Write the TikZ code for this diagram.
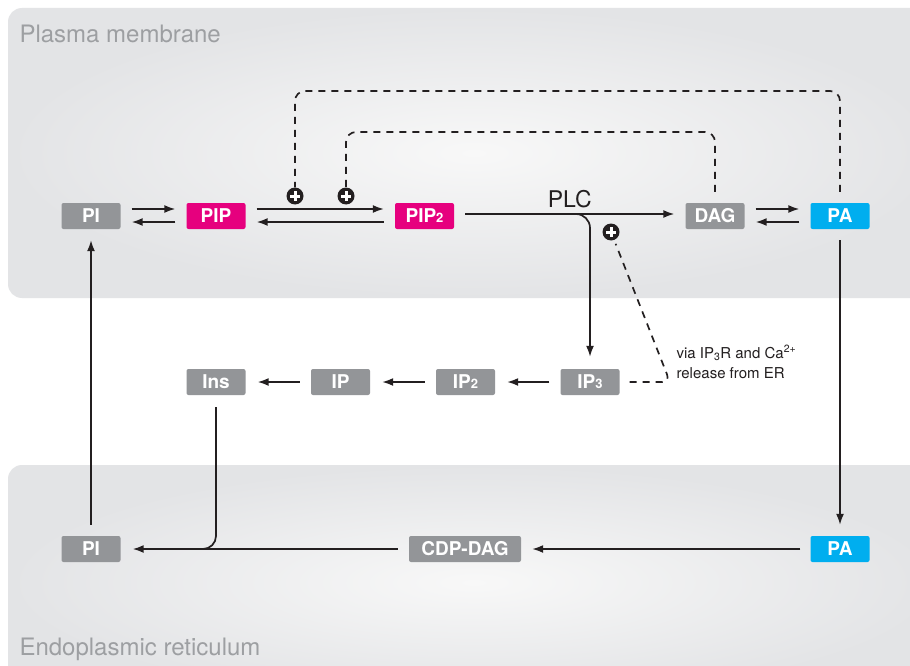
\documentclass[tikz,border=0pt]{standalone}
\usepackage{fontspec}
\setmainfont{TeX Gyre Heros}
\usetikzlibrary{arrows.meta,calc}
\definecolor{boxgray}{HTML}{939598}
\definecolor{pipmag}{HTML}{E6007E}
\definecolor{pacyan}{HTML}{00AEEF}
\definecolor{ink}{HTML}{231F20}
\definecolor{panelout}{HTML}{E3E4E6}
\definecolor{panelin}{HTML}{F8F8F8}
\definecolor{labelgray}{HTML}{9D9FA2}
\begin{document}
\begin{tikzpicture}[x=1pt,y=-1pt,
  lipid/.style={rectangle, rounded corners=2pt, minimum width=59pt, minimum height=26pt,
    inner sep=0pt, text=white, font=\fontsize{19}{19}\selectfont\bfseries},
  grayb/.style={lipid, fill=boxgray},
  magb/.style={lipid, fill=pipmag},
  cyanb/.style={lipid, fill=pacyan},
  conn/.style={draw=ink, line width=1.7pt},
  arr/.style={conn, -{Latex[length=11pt,width=8pt]}},
  dashline/.style={draw=ink, line width=1.7pt, dash pattern=on 7pt off 6pt},
  plus/.style={circle, fill=ink, minimum size=17pt, inner sep=0pt,
    path picture={
      \draw[white, line width=3pt]
        ([xshift=-4.8pt]path picture bounding box.center) -- ([xshift=4.8pt]path picture bounding box.center)
        ([yshift=-4.8pt]path picture bounding box.center) -- ([yshift=4.8pt]path picture bounding box.center);}},
  panellabel/.style={anchor=base west, text=labelgray, font=\fontsize{24}{24}\selectfont}
]
\useasboundingbox (0,0) rectangle (910,666);
\fill[white] (0,0) rectangle (910,666);

% membrane panels
\begin{scope}
\clip (0,0) rectangle (910,666);
\shade[inner color=panelin, outer color=panelout, rounded corners=14pt]
  (8,8) rectangle (940,298);
\shade[inner color=panelin, outer color=panelout, rounded corners=14pt]
  (8,465) rectangle (940,700);
\end{scope}
\node[panellabel] (pmlabel) at (16,43) {Plasma membrane};
\node[panellabel] (erlabel) at (16,655) {Endoplasmic reticulum};

% lipid species
\node[grayb] (PIt) at (91,216) {PI};
\node[magb]  (PIP) at (216,216) {PIP};
\node[magb]  (PIP2) at (424.5,216) {PIP{\fontsize{13}{13}\selectfont 2}};
\node[grayb] (DAG) at (715,216) {DAG};
\node[cyanb] (PAt) at (840,216) {PA};
\node[grayb] (Ins) at (216,382) {Ins};
\node[grayb] (IP)  at (340.5,382) {IP};
\node[grayb] (IP2) at (465.5,382) {IP{\fontsize{13}{13}\selectfont 2}};
\node[grayb] (IP3) at (590,382) {IP{\fontsize{13}{13}\selectfont 3}};
\node[grayb] (PIb) at (91,549) {PI};
\node[grayb, minimum width=112pt] (CDP) at (465,549) {CDP-DAG};
\node[cyanb] (PAb) at (840,549) {PA};

% activation markers
\node[plus] (p1) at (295,196) {};
\node[plus] (p2) at (346,196) {};
\node[plus] (p3) at (611,232) {};

% reversible steps at the plasma membrane
\foreach \a/\b in {PIt/PIP, PIP/PIP2, DAG/PAt}{
  \draw[arr, shorten <=11pt, shorten >=11pt] ([yshift=7pt]\a.east) -- ([yshift=7pt]\b.west);
  \draw[arr, shorten <=11pt, shorten >=11pt] ([yshift=-6pt]\b.west) -- ([yshift=-6pt]\a.east);
}

% PLC hydrolysis
\draw[arr, shorten <=11pt, shorten >=11pt] ([yshift=2pt]PIP2.east) -- ([yshift=2pt]DAG.west)
  node[pos=0.5, above=2pt, text=ink, font=\fontsize{23}{23}\selectfont] (plc) {PLC};
\draw[arr, rounded corners=14pt, shorten >=12pt]
  ($([yshift=2pt]PIP2.east)+(100,0)$) -| (IP3.north);

% inositol phosphate dephosphorylation
\foreach \a/\b in {IP3/IP2, IP2/IP, IP/Ins}{
  \draw[arr, shorten <=11pt, shorten >=12pt] (\a.west) -- (\b.east);
}

% feedback (dashed)
\draw[dashline, rounded corners=10pt, shorten <=11pt]
  (PAt.north) -- (PAt.north |- 0,91) -- (295,91) -- (p1.north);
\draw[dashline, rounded corners=10pt, shorten <=11pt]
  (DAG.north) -- (DAG.north |- 0,132) -- (346,132) -- (p2.north);
\draw[dashline, rounded corners=8pt, shorten <=10pt, shorten >=4pt]
  (IP3.east) -- (670,382) -- (p3);
\node[anchor=west, align=left, text=ink, font=\fontsize{15}{20}\selectfont] (via) at (673,362)
  {via IP\textsubscript{3}R and Ca\textsuperscript{2+}\\release from ER};

% transport between membranes
\draw[arr, shorten <=11pt, shorten >=11pt] (PAt.south) -- (PAb.north);
\draw[arr, shorten <=11pt, shorten >=11pt] (PIb.north) -- (PIt.south);
\draw[arr, shorten <=10pt, shorten >=11pt] (PAb.west) -- (CDP.east);
\draw[arr, shorten <=11pt, shorten >=12pt] (CDP.west) -- (PIb.east);
\draw[conn, rounded corners=13pt, shorten <=12pt, shorten >=20pt] (Ins.south) |- (PIb.east);
\end{tikzpicture}
\end{document}
